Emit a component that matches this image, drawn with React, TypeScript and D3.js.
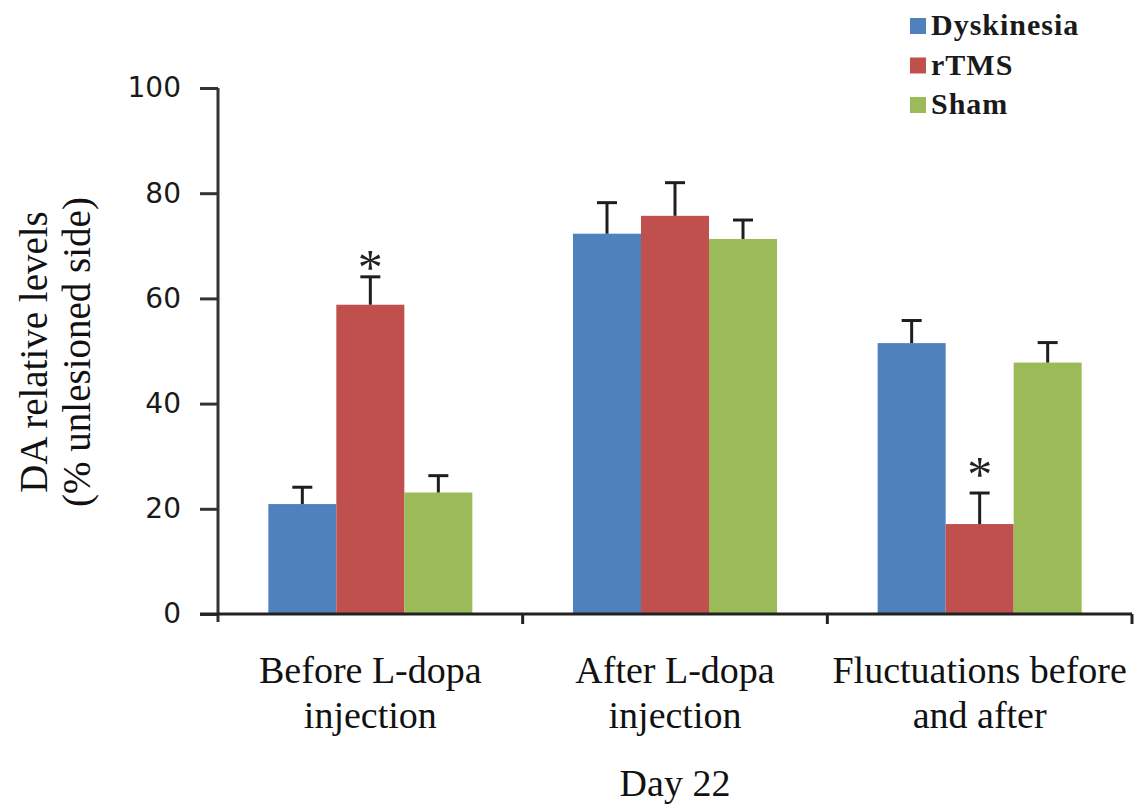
import { useEffect, useRef } from 'react'
import * as d3 from 'd3'

const categories = [
  ['Before L-dopa', 'injection'],
  ['After L-dopa', 'injection'],
  ['Fluctuations before', 'and after'],
]
const series = ['Dyskinesia', 'rTMS', 'Sham']
const colors = ['#4F81BD', '#C0504D', '#9BBB59']

// mean values per category, one array per series
const dyskinesia = [20.9, 72.3, 51.5]
const rtms = [58.8, 75.7, 17.1]
const sham = [23.1, 71.3, 47.8]

// upper error (SEM) per category
const dyskinesiaErr = [3.2, 5.9, 4.3]
const rtmsErr = [5.3, 6.3, 5.9]
const shamErr = [3.2, 3.6, 3.8]

// significance marks: [category index, series index, y value]
const stars: [number, number, number][] = [
  [0, 1, 67.3],
  [2, 1, 27.9],
]

const yTicks = [0, 20, 40, 60, 80, 100]

export default function App() {
  const svgRef = useRef<SVGSVGElement>(null)

  useEffect(() => {
    if (!svgRef.current) return
    const W = 1139
    const H = 810
    const margin = { top: 88, right: 7, bottom: 196, left: 218 }

    const svg = d3.select(svgRef.current)
    svg.selectAll('*').remove()
    svg.attr('width', W).attr('height', H)

    const catKeys = categories.map(c => c.join(' '))
    const values = [dyskinesia, rtms, sham]
    const errs = [dyskinesiaErr, rtmsErr, shamErr]

    const x0 = d3.scaleBand()
      .domain(catKeys)
      .range([margin.left, W - margin.right])
      .padding(0)

    const x1 = d3.scaleBand()
      .domain(series)
      .range([0, x0.bandwidth()])
      .paddingInner(0)
      .paddingOuter(0.74)

    const y = d3.scaleLinear()
      .domain([0, 100])
      .range([H - margin.bottom, margin.top])

    const data = catKeys.flatMap((c, ci) =>
      series.map((s, si) => ({
        cat: c, ci, s, si,
        value: values[si][ci],
        err: errs[si][ci],
      }))
    )

    // bars
    svg.append('g')
      .selectAll('rect')
      .data(data)
      .join('rect')
      .attr('x', d => (x0(d.cat) || 0) + (x1(d.s) || 0))
      .attr('y', d => y(d.value))
      .attr('width', x1.bandwidth())
      .attr('height', d => y(0) - y(d.value))
      .attr('fill', d => colors[d.si])

    // error bars (upper only)
    const eb = svg.append('g')
      .attr('stroke', '#1e1e1e')
      .attr('stroke-width', 3)
    const cx = (d: { cat: string, s: string }) => (x0(d.cat) || 0) + (x1(d.s) || 0) + x1.bandwidth() / 2
    eb.selectAll('.stem')
      .data(data)
      .join('line')
      .attr('x1', cx).attr('x2', cx)
      .attr('y1', d => y(d.value))
      .attr('y2', d => y(d.value + d.err))
    eb.selectAll('.cap')
      .data(data)
      .join('line')
      .attr('x1', d => cx(d) - 10).attr('x2', d => cx(d) + 10)
      .attr('y1', d => y(d.value + d.err))
      .attr('y2', d => y(d.value + d.err))

    // asterisks
    svg.append('g')
      .selectAll('text')
      .data(stars)
      .join('text')
      .attr('x', d => (x0(catKeys[d[0]]) || 0) + (x1(series[d[1]]) || 0) + x1.bandwidth() / 2)
      .attr('y', d => y(d[2]) + 24)
      .attr('text-anchor', 'middle')
      .attr('font-family', '"Liberation Serif", "Times New Roman", serif')
      .attr('font-size', 50)
      .attr('fill', '#222')
      .text('*')

    // y axis
    const yAxis = svg.append('g')
      .attr('transform', `translate(${margin.left},0)`)
      .call(d3.axisLeft(y).tickValues(yTicks).tickSize(18).tickSizeOuter(0).tickPadding(19))
    yAxis.select('.domain')
      .attr('stroke', '#333')
      .attr('stroke-width', 3)
      .attr('d', `M0,${margin.top}V${y(0) + 8}`)
    yAxis.selectAll('.tick line').attr('stroke', '#333').attr('stroke-width', 3)
    yAxis.selectAll('.tick text')
      .attr('font-family', '"DejaVu Sans", Verdana, sans-serif')
      .attr('font-size', 28)
      .attr('fill', '#1a1a1a')

    // x axis with ticks between categories
    const xAxis = svg.append('g').attr('stroke', '#222').attr('stroke-width', 3)
    xAxis.append('line')
      .attr('x1', margin.left - 18).attr('x2', W - margin.right)
      .attr('y1', y(0)).attr('y2', y(0))
    const boundaries = catKeys.map(c => (x0(c) || 0) + x0.bandwidth())
    xAxis.selectAll('.xt')
      .data(boundaries)
      .join('line')
      .attr('x1', d => d).attr('x2', d => d)
      .attr('y1', y(0)).attr('y2', y(0) + 10)

    // category labels
    const serif = '"Liberation Serif", "Times New Roman", serif'
    const cl = svg.append('g')
      .selectAll('text')
      .data(categories)
      .join('text')
      .attr('text-anchor', 'middle')
      .attr('font-family', serif)
      .attr('font-size', 38)
      .attr('fill', '#111')
    cl.each(function (d, i) {
      const t = d3.select(this)
      const xc = (x0(catKeys[i]) || 0) + x0.bandwidth() / 2
      d.forEach((line, li) => {
        t.append('tspan')
          .attr('x', xc)
          .attr('y', y(0) + 69 + li * 45)
          .text(line)
      })
    })

    svg.append('text')
      .attr('x', (margin.left + W - margin.right) / 2)
      .attr('y', 796)
      .attr('text-anchor', 'middle')
      .attr('font-family', serif)
      .attr('font-size', 38)
      .attr('fill', '#111')
      .text('Day 22')

    // y title
    const yt = svg.append('text')
      .attr('transform', 'translate(0,352) rotate(-90)')
      .attr('text-anchor', 'middle')
      .attr('font-family', serif)
      .attr('font-size', 39)
      .attr('fill', '#111')
    yt.append('tspan').attr('x', 0).attr('y', 47).text('DA relative levels')
    yt.append('tspan').attr('x', 0).attr('y', 90).text('(% unlesioned side)')

    // legend
    const lg = svg.append('g').attr('transform', 'translate(910,0)')
    const items = lg.selectAll('g')
      .data(series)
      .join('g')
      .attr('transform', (_, i) => `translate(0,${26 + i * 39.5})`)
    items.append('rect')
      .attr('x', 0).attr('y', -8)
      .attr('width', 16).attr('height', 16)
      .attr('fill', (_, i) => colors[i])
    items.append('text')
      .attr('x', 21)
      .attr('y', 9)
      .attr('font-family', serif)
      .attr('font-size', 30)
      .attr('font-weight', 'bold')
      .attr('letter-spacing', 1)
      .attr('fill', '#1a1a1a')
      .text(d => d)
  }, [])

  return (
    <svg ref={svgRef} style={{ position: 'absolute', left: 0, top: 0, display: 'block' }}></svg>
  )
}
